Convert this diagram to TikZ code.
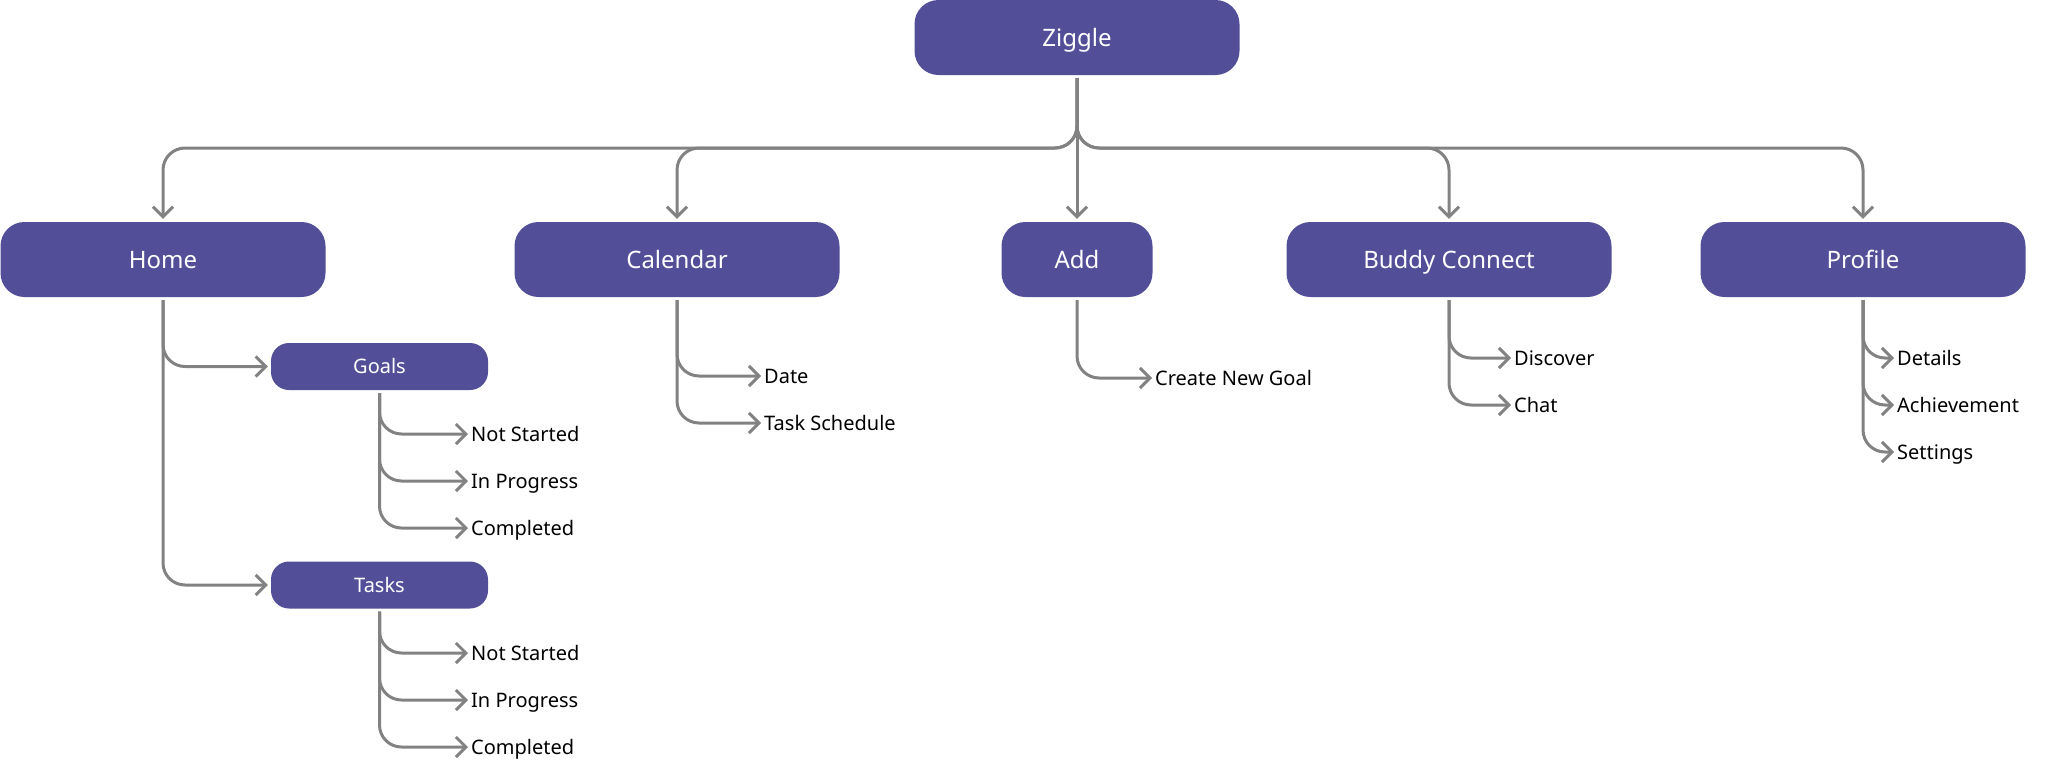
\documentclass[tikz,border=0pt]{standalone}
\usepackage{fontspec}
\setmainfont{Noto Sans}
\usetikzlibrary{arrows.meta}
\definecolor{zigpurple}{RGB}{82,79,152}
\definecolor{ziggray}{RGB}{130,130,130}
\tikzset{
    topbox/.style={fill=zigpurple,text=white,rounded corners=24pt,minimum width=325pt,minimum height=75pt,inner sep=0pt,font=\fontsize{24}{24}\selectfont,text height=17pt,text depth=0pt},
    smallbox/.style={fill=zigpurple,text=white,rounded corners=18pt,minimum width=217pt,minimum height=47pt,inner sep=0pt,font=\fontsize{20}{20}\selectfont,text height=14.3pt,text depth=0pt},
    leaf/.style={anchor=west,inner sep=0pt,font=\fontsize{20}{20}\selectfont,text height=14.3pt,text depth=0pt},
    link/.style={draw=ziggray,line width=3pt,rounded corners=22pt,shorten <=3pt,shorten >=3pt,-{Straight Barb[length=10pt,width=20pt]}}
}
\begin{document}
\begin{tikzpicture}[x=1pt,y=-1pt]
    \useasboundingbox (0,0) rectangle (2065,761);
    %% NOTE:
    %% Root of the app map
    \node[topbox] (ziggle) at (1077,37.5) {Ziggle};
    \coordinate (bus) at (1077,148);
    %% Main screens
    \node[topbox] (home) at (163,259.5) {Home};
    \node[topbox] (calendar) at (677,259.5) {Calendar};
    \node[topbox,minimum width=151pt] (add) at (1077,259.5) {Add};
    \node[topbox] (buddy) at (1449,259.5) {Buddy Connect};
    \node[topbox] (profile) at (1863,259.5) {Profile};
    \draw[link] (ziggle.south) -- (bus) -| (home.north);
    \draw[link] (ziggle.south) -- (bus) -| (calendar.north);
    \draw[link] (ziggle.south) -- (add.north);
    \draw[link] (ziggle.south) -- (bus) -| (buddy.north);
    \draw[link] (ziggle.south) -- (bus) -| (profile.north);
    %% Home
    \node[smallbox] (goals) at (379.5,366.5) {Goals};
    \node[smallbox] (tasks) at (379.5,585) {Tasks};
    \draw[link] (home.south) |- (goals.west);
    \draw[link] (home.south) |- (tasks.west);
    \node[leaf] (gnot) at (471,434) {Not Started};
    \node[leaf] (gprog) at (471,481) {In Progress};
    \node[leaf] (gdone) at (471,528) {Completed};
    \draw[link] (goals.south) |- (gnot.west);
    \draw[link] (goals.south) |- (gprog.west);
    \draw[link] (goals.south) |- (gdone.west);
    \node[leaf] (tnot) at (471,653) {Not Started};
    \node[leaf] (tprog) at (471,700) {In Progress};
    \node[leaf] (tdone) at (471,747) {Completed};
    \draw[link] (tasks.south) |- (tnot.west);
    \draw[link] (tasks.south) |- (tprog.west);
    \draw[link] (tasks.south) |- (tdone.west);
    %% Calendar
    \node[leaf] (date) at (764,376) {Date};
    \node[leaf] (schedule) at (764,423) {Task Schedule};
    \draw[link] (calendar.south) |- (date.west);
    \draw[link] (calendar.south) |- (schedule.west);
    %% Add
    \node[leaf] (newgoal) at (1155,378) {Create New Goal};
    \draw[link] (add.south) |- (newgoal.west);
    %% Buddy Connect
    \node[leaf] (discover) at (1514,358) {Discover};
    \node[leaf] (chat) at (1514,405) {Chat};
    \draw[link] (buddy.south) |- (discover.west);
    \draw[link] (buddy.south) |- (chat.west);
    %% Profile
    \node[leaf] (details) at (1897,358) {Details};
    \node[leaf] (achieve) at (1897,405) {Achievement};
    \node[leaf] (settings) at (1897,452) {Settings};
    \draw[link] (profile.south) |- (details.west);
    \draw[link] (profile.south) |- (achieve.west);
    \draw[link] (profile.south) |- (settings.west);
\end{tikzpicture}
\end{document}
